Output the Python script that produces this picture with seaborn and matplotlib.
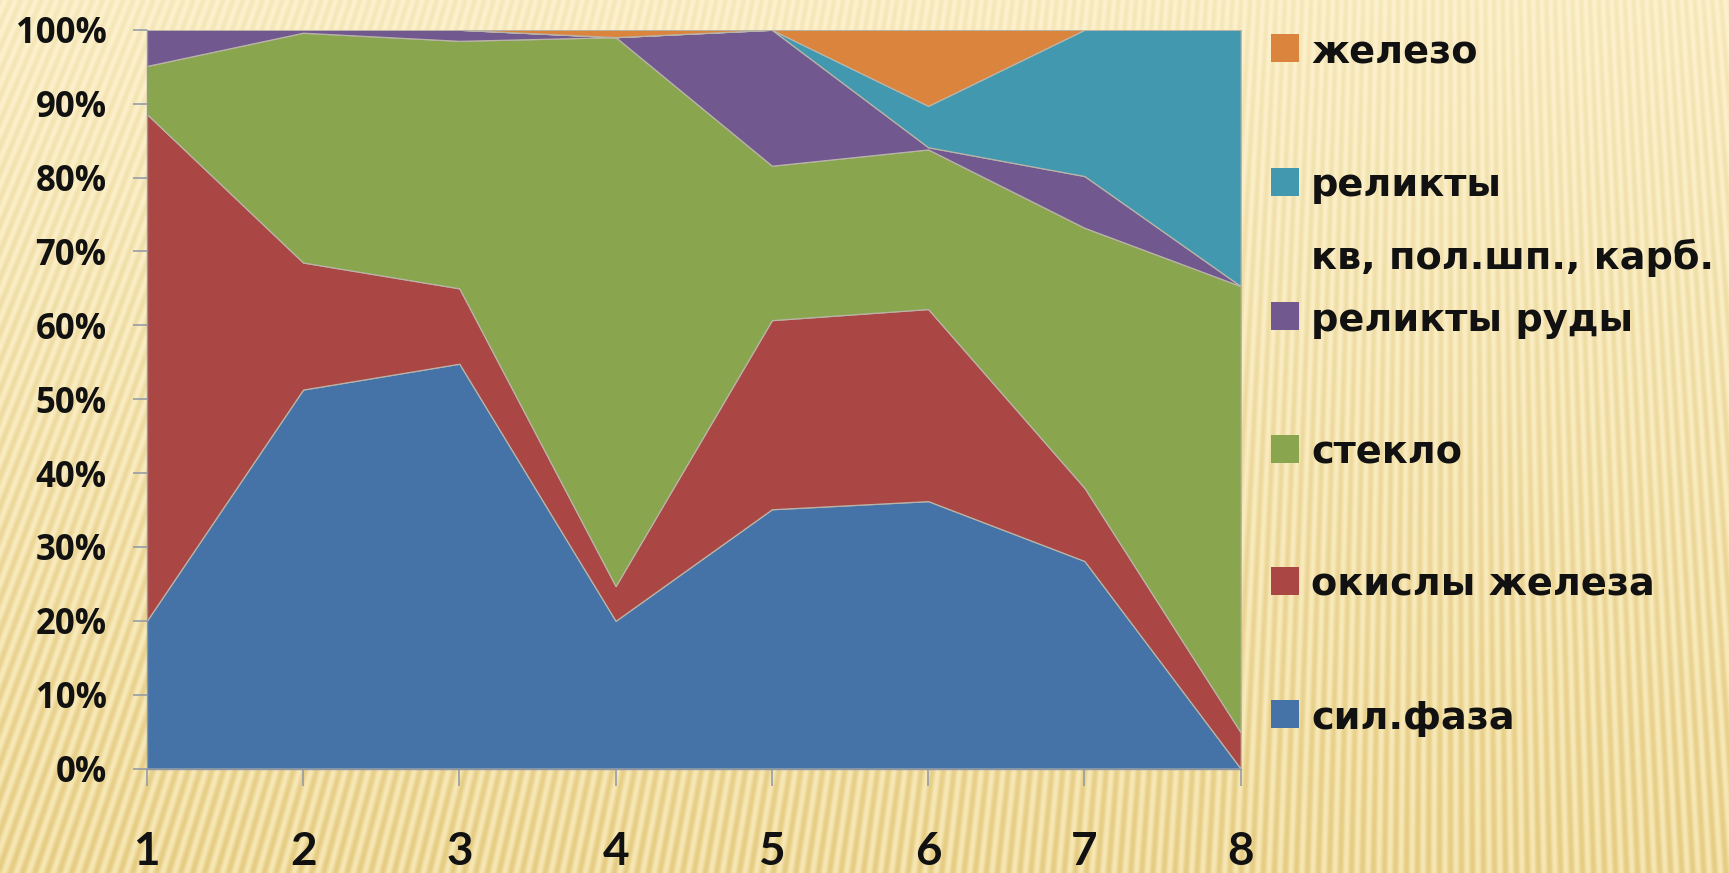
import numpy as np
import matplotlib
matplotlib.use("Agg")
import matplotlib.pyplot as plt
from matplotlib.patches import Rectangle
from matplotlib.ticker import FixedLocator, FixedFormatter
import seaborn as sns

# --- data: share of phases in each sample, %
samples = [1, 2, 3, 4, 5, 6, 7, 8]
sil_faza = [20.0, 51.3, 54.8, 20.0, 35.1, 36.2, 28.1, 0.0]
okisly_zheleza = [68.6, 17.2, 10.2, 4.7, 25.6, 26.0, 9.9, 4.9]
steklo = [6.5, 31.1, 33.5, 74.3, 20.9, 21.6, 35.2, 60.4]
relikty_rudy = [4.9, 0.4, 1.5, 0.0, 18.4, 0.3, 7.0, 0.0]
relikty_kv = [0.0, 0.0, 0.0, 0.0, 0.0, 5.6, 19.8, 34.7]
zhelezo = [0.0, 0.0, 0.0, 1.0, 0.0, 10.3, 0.0, 0.0]

series_labels = [
    "сил.фаза",
    "окислы железа",
    "стекло",
    "реликты руды",
    "реликты\nкв, пол.шп., карб.",
    "железо",
]
y_tick_values = [0, 10, 20, 30, 40, 50, 60, 70, 80, 90, 100]
y_tick_labels = [f"{v}%" for v in y_tick_values]

colors = ["#4572A7", "#AA4643", "#89A54E", "#71588F", "#4198AF", "#DB843D"]

sns.set_theme(style="white")
plt.rcParams["font.family"] = ["DejaVu Sans"]

W, H, DPI = 1729, 873, 100
fig = plt.figure(figsize=(W / DPI, H / DPI), dpi=DPI)

# --- striped paper background
yy, xx = np.mgrid[0:H, 0:W].astype(float)
vx, vy = 1450.0, -3300.0
theta = np.arctan2(xx - vx, yy - vy)
period = 11.0 / 4170.0
stripe = 0.5 + 0.5 * np.cos(2 * np.pi * theta / period)
t = yy / H
amp = 0.4 + 0.6 * t
base_top = np.array([253, 242, 206]) / 255.0
base_bot = np.array([247, 231, 180]) / 255.0
dark = np.array([18, 27, 50]) / 255.0
base = base_top[None, None, :] * (1 - t[..., None]) + base_bot[None, None, :] * t[..., None]
img = base - dark[None, None, :] * (amp * stripe)[..., None]
img = np.clip(img, 0, 1)
bg = fig.add_axes([0, 0, 1, 1], zorder=-10)
bg.imshow(img, extent=[0, 1, 0, 1], aspect="auto", interpolation="bilinear")
bg.set_axis_off()

# --- 100% stacked area chart
ax = fig.add_axes([0.0849, 0.1196, 0.6327, 0.8463])
ax.patch.set_alpha(0)
values = np.array([sil_faza, okisly_zheleza, steklo, relikty_rudy, relikty_kv, zhelezo])
shares = values / values.sum(axis=0) * 100.0
ax.stackplot(samples, shares, colors=colors, edgecolor="#b9b4a8", linewidth=0.9)

ax.set_xlim(samples[0], samples[-1])
ax.set_ylim(0, 100)
ax.yaxis.set_major_locator(FixedLocator(y_tick_values))
ax.yaxis.set_major_formatter(FixedFormatter(y_tick_labels))
ax.set_xticks(samples)
ax.set_xticklabels([str(s) for s in samples])

for side in ["top", "right"]:
    ax.spines[side].set_visible(False)
for side in ["left", "bottom"]:
    ax.spines[side].set_color("#8e97a6")
    ax.spines[side].set_linewidth(1.0)

ax.tick_params(axis="y", which="major", direction="out", length=10, width=1.1,
               color="#8e97a6", pad=19, left=True)
ax.tick_params(axis="x", which="major", direction="out", length=12, width=1.1,
               color="#8e97a6", pad=33, bottom=True)
for lab in ax.get_yticklabels():
    lab.set_fontfamily(["Open Sans", "DejaVu Sans"])
    lab.set_fontweight("bold")
    lab.set_fontsize(25)
    lab.set_color("#111111")
for lab in ax.get_xticklabels():
    lab.set_fontfamily(["Lato", "DejaVu Sans"])
    lab.set_fontweight("bold")
    lab.set_fontsize(33)
    lab.set_color("#111111")
ax.grid(False)

# --- legend, drawn top to bottom (last series first)
marker_x0, marker_x1 = 1271, 1299
text_x = 1311
entry_centers = [714, 581, 449, 316, 181.5, 48]
line_step = 71
for label, color, cy in zip(series_labels, colors, entry_centers):
    fig.patches.append(Rectangle((marker_x0 / W, 1 - (cy + 14) / H),
                                 (marker_x1 - marker_x0) / W, 28 / H,
                                 transform=fig.transFigure, facecolor=color,
                                 edgecolor="none"))
    for k, line in enumerate(label.split("\n")):
        fig.text(text_x / W, 1 - (cy + 1 + k * line_step) / H, line,
                 ha="left", va="center_baseline", fontsize=27.5,
                 fontweight="bold", color="#111111",
                 family=["DejaVu Sans"])

fig.savefig("out.png", dpi=DPI)
